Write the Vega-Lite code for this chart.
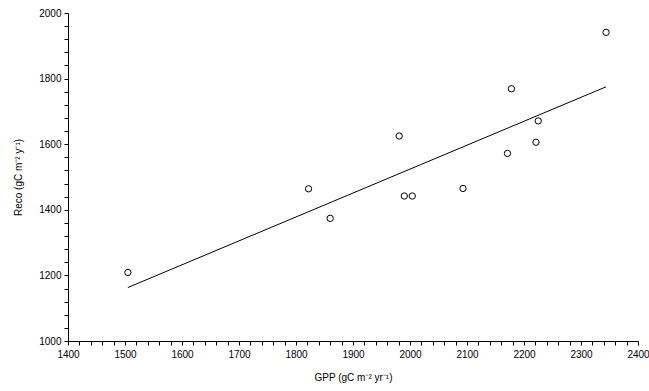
{
  "$schema": "https://vega.github.io/schema/vega-lite/v6.json",
  "width": 570,
  "height": 328,
  "autosize": {"type": "none"},
  "padding": {"left": 68, "top": 13, "right": 11, "bottom": 50},
  "background": "white",
  "config": {
    "view": {"stroke": null},
    "axis": {
      "labelFont": "Liberation Sans",
      "titleFont": "Liberation Sans",
      "labelFontSize": 10,
      "titleFontSize": 10,
      "titleFontWeight": "normal",
      "labelColor": "black",
      "titleColor": "black",
      "domainColor": "black",
      "tickColor": "black",
      "grid": false,
      "labelOverlap": false,
      "labelFlush": false
    }
  },
  "datasets": {
    "obs": [
      {"gpp": 1505, "reco": 1209},
      {"gpp": 1822, "reco": 1464},
      {"gpp": 1860, "reco": 1374},
      {"gpp": 1981, "reco": 1625},
      {"gpp": 1990, "reco": 1442},
      {"gpp": 2004, "reco": 1442},
      {"gpp": 2093, "reco": 1465},
      {"gpp": 2171, "reco": 1572},
      {"gpp": 2178, "reco": 1769},
      {"gpp": 2221, "reco": 1606},
      {"gpp": 2225, "reco": 1671},
      {"gpp": 2344, "reco": 1941}
    ],
    "fit": [
      {"gpp": 1505, "reco": 1163},
      {"gpp": 2344, "reco": 1775}
    ]
  },
  "layer": [
    {
      "data": {"name": "fit"},
      "mark": {"type": "line", "color": "black", "strokeWidth": 1},
      "encoding": {
        "x": {"field": "gpp", "type": "quantitative"},
        "y": {"field": "reco", "type": "quantitative"}
      }
    },
    {
      "data": {"name": "obs"},
      "mark": {"type": "point", "shape": "circle", "filled": false, "color": "black", "strokeWidth": 1, "size": 40, "opacity": 1},
      "encoding": {
        "x": {
          "field": "gpp",
          "type": "quantitative",
          "scale": {"domain": [1400, 2400], "nice": false, "zero": false},
          "axis": {
            "title": "GPP (gC m⁻² yr⁻¹)",
            "values": [1400,1420,1440,1460,1480,1500,1520,1540,1560,1580,1600,1620,1640,1660,1680,1700,1720,1740,1760,1780,1800,1820,1840,1860,1880,1900,1920,1940,1960,1980,2000,2020,2040,2060,2080,2100,2120,2140,2160,2180,2200,2220,2240,2260,2280,2300,2320,2340,2360,2380,2400],
            "tickCount": 100,
            "labelExpr": "datum.value % 100 === 0 ? datum.label : ''",
            "labelOverlap": false,
            "labelBound": false,
            "format": "d",
            "tickSize": 4,
            "labelPadding": 4,
            "titlePadding": 13,
            "encode": {"ticks": {"update": {"y2": {"signal": "datum.value % 100 === 0 ? 4 : 2"}}}}
          }
        },
        "y": {
          "field": "reco",
          "type": "quantitative",
          "scale": {"domain": [1000, 2000], "nice": false, "zero": false},
          "axis": {
            "title": "Reco (gC m⁻² y⁻¹)",
            "values": [1000,1040,1080,1120,1160,1200,1240,1280,1320,1360,1400,1440,1480,1520,1560,1600,1640,1680,1720,1760,1800,1840,1880,1920,1960,2000],
            "tickCount": 100,
            "labelExpr": "datum.value % 200 === 0 ? datum.label : ''",
            "labelOverlap": false,
            "labelBound": false,
            "format": "d",
            "tickSize": 4,
            "labelPadding": 3,
            "titlePadding": 15,
            "encode": {"ticks": {"update": {"x2": {"signal": "datum.value % 200 === 0 ? -4 : -2"}}}}
          }
        }
      }
    }
  ]
}
